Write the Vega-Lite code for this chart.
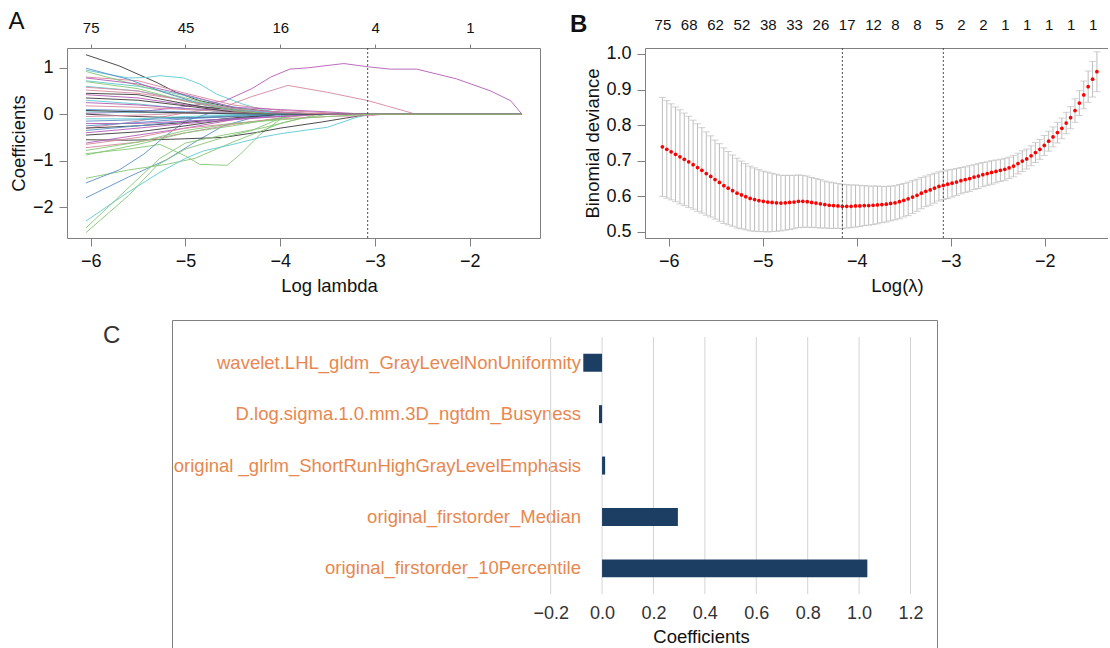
{
  "$schema": "https://vega.github.io/schema/vega-lite/v6.json",
  "background": "white",
  "padding": {"left": 7, "top": 9, "right": 0, "bottom": 0},
  "config": {
    "font": "Liberation Sans",
    "view": {"stroke": null},
    "axis": {"grid": false, "labelFontSize": 18, "titleFontSize": 18.5, "titleFontWeight": "normal", "labelColor": "#111111", "titleColor": "#111111", "tickColor": "#808080", "domainColor": "#808080", "labelFlush": false, "labelOverlap": false},
    "title": {"fontSize": 24, "fontWeight": "normal", "anchor": "start", "color": "#111111"}
  },
  "spacing": 25,
  "vconcat": [
    {
      "spacing": 28,
      "hconcat": [
        {
          "width": 473,
          "height": 190,
          "view": {"stroke": "#808080"},
          "title": {"text": "A", "offset": -13, "dx": -1},
          "data": {"values": [
            {"v":"01","x":-6.05,"y":1.28},{"v":"01","x":-5.7,"y":1.04},{"v":"01","x":-5.3,"y":0.68},{"v":"01","x":-5.1,"y":0.47},{"v":"01","x":-4.85,"y":0.29},{"v":"01","x":-4.5,"y":0.14},{"v":"01","x":-4.0,"y":0.04},{"v":"01","x":-3.6,"y":0},{"v":"01","x":-1.45,"y":0},
            {"v":"02","x":-6.05,"y":-0.3},{"v":"02","x":-5.5,"y":-0.15},{"v":"02","x":-5.0,"y":0.03},{"v":"02","x":-4.6,"y":0.15},{"v":"02","x":-4.3,"y":0.38},{"v":"02","x":-3.92,"y":0.62},{"v":"02","x":-3.5,"y":0.47},{"v":"02","x":-3.07,"y":0.29},{"v":"02","x":-2.57,"y":0},{"v":"02","x":-1.45,"y":0},
            {"v":"03","x":-6.05,"y":-0.85},{"v":"03","x":-5.6,"y":-0.75},{"v":"03","x":-5.27,"y":-0.65},{"v":"03","x":-5.0,"y":-0.9},{"v":"03","x":-4.85,"y":-1.08},{"v":"03","x":-4.56,"y":-1.1},{"v":"03","x":-4.42,"y":-0.86},{"v":"03","x":-4.21,"y":-0.43},{"v":"03","x":-3.93,"y":0},{"v":"03","x":-1.45,"y":0},
            {"v":"04","x":-6.05,"y":-1.8},{"v":"04","x":-5.6,"y":-1.35},{"v":"04","x":-5.2,"y":-0.98},{"v":"04","x":-4.9,"y":-0.6},{"v":"04","x":-4.6,"y":-0.25},{"v":"04","x":-4.3,"y":-0.08},{"v":"04","x":-4.0,"y":0},{"v":"04","x":-1.45,"y":0},
            {"v":"05","x":-6.05,"y":0.95},{"v":"05","x":-5.8,"y":0.85},{"v":"05","x":-5.6,"y":0.78},{"v":"05","x":-5.41,"y":0.79},{"v":"05","x":-5.27,"y":0.83},{"v":"05","x":-5.02,"y":0.78},{"v":"05","x":-4.85,"y":0.65},{"v":"05","x":-4.67,"y":0.43},{"v":"05","x":-4.4,"y":0.22},{"v":"05","x":-4.2,"y":0.1},{"v":"05","x":-3.9,"y":0},{"v":"05","x":-1.45,"y":0},
            {"v":"06","x":-6.05,"y":0.02},{"v":"06","x":-5.5,"y":0.05},{"v":"06","x":-5.09,"y":0.14},{"v":"06","x":-4.58,"y":0.29},{"v":"06","x":-4.3,"y":0.55},{"v":"06","x":-4.1,"y":0.8},{"v":"06","x":-3.9,"y":0.97},{"v":"06","x":-3.7,"y":1.0},{"v":"06","x":-3.33,"y":1.09},{"v":"06","x":-3.07,"y":1.02},{"v":"06","x":-2.84,"y":0.97},{"v":"06","x":-2.56,"y":0.97},{"v":"06","x":-2.14,"y":0.76},{"v":"06","x":-1.78,"y":0.5},{"v":"06","x":-1.57,"y":0.29},{"v":"06","x":-1.45,"y":0},
            {"v":"07","x":-6.05,"y":-0.55},{"v":"07","x":-5.6,"y":-0.56},{"v":"07","x":-5.16,"y":-0.54},{"v":"07","x":-4.6,"y":-0.5},{"v":"07","x":-4.21,"y":-0.38},{"v":"07","x":-4.0,"y":-0.3},{"v":"07","x":-3.57,"y":-0.17},{"v":"07","x":-3.3,"y":-0.08},{"v":"07","x":-3.05,"y":0},{"v":"07","x":-1.45,"y":0},
            {"v":"08","x":-6.05,"y":0.8},{"v":"08","x":-5.5,"y":0.72},{"v":"08","x":-5.0,"y":0.45},{"v":"08","x":-4.5,"y":0.2},{"v":"08","x":-4.0,"y":0.08},{"v":"08","x":-3.5,"y":0.03},{"v":"08","x":-3.2,"y":0},{"v":"08","x":-1.45,"y":0},
            {"v":"09","x":-6.05,"y":-1.38},{"v":"09","x":-5.6,"y":-1.2},{"v":"09","x":-5.2,"y":-1.08},{"v":"09","x":-4.9,"y":-0.95},{"v":"09","x":-4.5,"y":-0.6},{"v":"09","x":-4.0,"y":-0.2},{"v":"09","x":-3.6,"y":0},{"v":"09","x":-1.45,"y":0},
            {"v":"10","x":-6.05,"y":-1.48},{"v":"10","x":-5.7,"y":-1.2},{"v":"10","x":-5.44,"y":-0.86},{"v":"10","x":-5.2,"y":-0.45},{"v":"10","x":-4.99,"y":-0.14},{"v":"10","x":-4.7,"y":0.05},{"v":"10","x":-4.3,"y":0.04},{"v":"10","x":-4.0,"y":0},{"v":"10","x":-1.45,"y":0},
            {"v":"11","x":-6.05,"y":-2.3},{"v":"11","x":-5.62,"y":-1.7},{"v":"11","x":-5.27,"y":-1.25},{"v":"11","x":-4.99,"y":-0.94},{"v":"11","x":-4.81,"y":-0.79},{"v":"11","x":-4.5,"y":-0.65},{"v":"11","x":-4.21,"y":-0.5},{"v":"11","x":-4.0,"y":-0.42},{"v":"11","x":-3.5,"y":-0.28},{"v":"11","x":-3.2,"y":-0.07},{"v":"11","x":-3.05,"y":0},{"v":"11","x":-1.45,"y":0},
            {"v":"12","x":-6.05,"y":0.42},{"v":"12","x":-5.5,"y":0.35},{"v":"12","x":-5.0,"y":0.2},{"v":"12","x":-4.5,"y":0.1},{"v":"12","x":-4.0,"y":0.05},{"v":"12","x":-3.6,"y":0},{"v":"12","x":-1.45,"y":0},
            {"v":"13","x":-6.05,"y":0.45},{"v":"13","x":-5.5,"y":0.42},{"v":"13","x":-5.2,"y":0.3},{"v":"13","x":-4.8,"y":0.15},{"v":"13","x":-4.4,"y":0.08},{"v":"13","x":-4.0,"y":0},{"v":"13","x":-1.45,"y":0},
            {"v":"14","x":-6.05,"y":0.52},{"v":"14","x":-5.5,"y":0.45},{"v":"14","x":-5.0,"y":0.3},{"v":"14","x":-4.5,"y":0.12},{"v":"14","x":-4.1,"y":0.02},{"v":"14","x":-3.9,"y":0},{"v":"14","x":-1.45,"y":0},
            {"v":"15","x":-6.05,"y":-2.45},{"v":"15","x":-5.62,"y":-1.62},{"v":"15","x":-5.27,"y":-0.95},{"v":"15","x":-5.0,"y":-0.62},{"v":"15","x":-4.6,"y":-0.45},{"v":"15","x":-4.2,"y":-0.3},{"v":"15","x":-3.8,"y":-0.1},{"v":"15","x":-3.5,"y":0},{"v":"15","x":-1.45,"y":0},
            {"v":"16","x":-6.05,"y":0.1},{"v":"16","x":-5.5,"y":0.08},{"v":"16","x":-5.0,"y":0.05},{"v":"16","x":-4.5,"y":0.02},{"v":"16","x":-4.0,"y":0},{"v":"16","x":-1.45,"y":0},
            {"v":"17","x":-6.05,"y":0.72},{"v":"17","x":-5.5,"y":0.6},{"v":"17","x":-5.0,"y":0.4},{"v":"17","x":-4.6,"y":0.2},{"v":"17","x":-4.2,"y":0.05},{"v":"17","x":-4.0,"y":0},{"v":"17","x":-1.45,"y":0},
            {"v":"18","x":-6.05,"y":-0.62},{"v":"18","x":-5.5,"y":-0.45},{"v":"18","x":-5.0,"y":-0.3},{"v":"18","x":-4.5,"y":-0.12},{"v":"18","x":-4.1,"y":0},{"v":"18","x":-1.45,"y":0},
            {"v":"19","x":-6.05,"y":-0.45},{"v":"19","x":-5.5,"y":-0.38},{"v":"19","x":-5.0,"y":-0.25},{"v":"19","x":-4.5,"y":-0.1},{"v":"19","x":-4.0,"y":0},{"v":"19","x":-1.45,"y":0},
            {"v":"20","x":-6.05,"y":-0.65},{"v":"20","x":-5.5,"y":-0.5},{"v":"20","x":-5.0,"y":-0.3},{"v":"20","x":-4.5,"y":-0.2},{"v":"20","x":-4.0,"y":-0.1},{"v":"20","x":-3.5,"y":-0.05},{"v":"20","x":-3.05,"y":-0.03},{"v":"20","x":-2.9,"y":0},{"v":"20","x":-1.45,"y":0},
            {"v":"21","x":-6.05,"y":0.92},{"v":"21","x":-5.5,"y":0.62},{"v":"21","x":-5.0,"y":0.35},{"v":"21","x":-4.5,"y":0.1},{"v":"21","x":-4.1,"y":0},{"v":"21","x":-1.45,"y":0},
            {"v":"22","x":-6.05,"y":0.99},{"v":"22","x":-5.6,"y":0.75},{"v":"22","x":-5.2,"y":0.45},{"v":"22","x":-4.8,"y":0.2},{"v":"22","x":-4.4,"y":0.05},{"v":"22","x":-4.1,"y":0},{"v":"22","x":-1.45,"y":0},
            {"v":"23","x":-6.05,"y":0.3},{"v":"23","x":-5.5,"y":0.22},{"v":"23","x":-5.0,"y":0.12},{"v":"23","x":-4.5,"y":0.04},{"v":"23","x":-4.1,"y":0},{"v":"23","x":-1.45,"y":0},
            {"v":"24","x":-6.05,"y":0.78},{"v":"24","x":-5.5,"y":0.65},{"v":"24","x":-5.0,"y":0.42},{"v":"24","x":-4.5,"y":0.15},{"v":"24","x":-4.0,"y":0.1},{"v":"24","x":-3.5,"y":0.05},{"v":"24","x":-3.1,"y":0},{"v":"24","x":-1.45,"y":0},
            {"v":"25","x":-6.05,"y":0.0},{"v":"25","x":-5.5,"y":-0.05},{"v":"25","x":-5.0,"y":-0.08},{"v":"25","x":-4.5,"y":-0.05},{"v":"25","x":-4.0,"y":0},{"v":"25","x":-1.45,"y":0},
            {"v":"26","x":-6.05,"y":-0.72},{"v":"26","x":-5.5,"y":-0.6},{"v":"26","x":-5.0,"y":-0.4},{"v":"26","x":-4.5,"y":-0.22},{"v":"26","x":-4.0,"y":-0.08},{"v":"26","x":-3.6,"y":0},{"v":"26","x":-1.45,"y":0},
            {"v":"27","x":-6.05,"y":-2.55},{"v":"27","x":-5.6,"y":-1.75},{"v":"27","x":-5.3,"y":-1.1},{"v":"27","x":-5.0,"y":-0.75},{"v":"27","x":-4.6,"y":-0.5},{"v":"27","x":-4.3,"y":-0.35},{"v":"27","x":-3.9,"y":0},{"v":"27","x":-1.45,"y":0},
            {"v":"28","x":-6.05,"y":-0.15},{"v":"28","x":-5.5,"y":-0.12},{"v":"28","x":-5.0,"y":-0.08},{"v":"28","x":-4.5,"y":-0.03},{"v":"28","x":-4.0,"y":0},{"v":"28","x":-1.45,"y":0},
            {"v":"29","x":-6.05,"y":0.05},{"v":"29","x":-5.5,"y":0.04},{"v":"29","x":-5.0,"y":0.02},{"v":"29","x":-4.5,"y":0},{"v":"29","x":-1.45,"y":0},
            {"v":"30","x":-6.05,"y":0.25},{"v":"30","x":-5.5,"y":0.2},{"v":"30","x":-5.0,"y":0.12},{"v":"30","x":-4.5,"y":0.08},{"v":"30","x":-4.0,"y":0.03},{"v":"30","x":-3.5,"y":0},{"v":"30","x":-1.45,"y":0},
            {"v":"31","x":-6.05,"y":-0.3},{"v":"31","x":-5.5,"y":-0.25},{"v":"31","x":-5.0,"y":-0.18},{"v":"31","x":-4.5,"y":-0.08},{"v":"31","x":-4.0,"y":0},{"v":"31","x":-1.45,"y":0},
            {"v":"32","x":-6.05,"y":0.18},{"v":"32","x":-5.5,"y":0.15},{"v":"32","x":-5.0,"y":0.1},{"v":"32","x":-4.5,"y":0.05},{"v":"32","x":-4.0,"y":0},{"v":"32","x":-1.45,"y":0},
            {"v":"33","x":-6.05,"y":-0.88},{"v":"33","x":-5.5,"y":-0.65},{"v":"33","x":-5.0,"y":-0.4},{"v":"33","x":-4.5,"y":-0.25},{"v":"33","x":-4.0,"y":-0.08},{"v":"33","x":-3.7,"y":0},{"v":"33","x":-1.45,"y":0},
            {"v":"34","x":-6.05,"y":-0.35},{"v":"34","x":-5.5,"y":-0.25},{"v":"34","x":-5.0,"y":-0.15},{"v":"34","x":-4.5,"y":-0.1},{"v":"34","x":-4.0,"y":-0.03},{"v":"34","x":-3.8,"y":0},{"v":"34","x":-1.45,"y":0},
            {"v":"35","x":-6.05,"y":0.6},{"v":"35","x":-5.5,"y":0.5},{"v":"35","x":-5.0,"y":0.3},{"v":"35","x":-4.5,"y":0.12},{"v":"35","x":-4.0,"y":0},{"v":"35","x":-1.45,"y":0},
            {"v":"36","x":-6.05,"y":-0.2},{"v":"36","x":-5.5,"y":-0.2},{"v":"36","x":-5.0,"y":-0.15},{"v":"36","x":-4.5,"y":-0.1},{"v":"36","x":-4.0,"y":-0.05},{"v":"36","x":-3.6,"y":0},{"v":"36","x":-1.45,"y":0},
            {"v":"37","x":-6.05,"y":0.35},{"v":"37","x":-5.5,"y":0.3},{"v":"37","x":-5.0,"y":0.18},{"v":"37","x":-4.5,"y":0.05},{"v":"37","x":-4.0,"y":0},{"v":"37","x":-1.45,"y":0},
            {"v":"38","x":-6.05,"y":-0.05},{"v":"38","x":-5.5,"y":-0.02},{"v":"38","x":-5.0,"y":0.02},{"v":"38","x":-4.5,"y":0.03},{"v":"38","x":-4.0,"y":0.01},{"v":"38","x":-3.7,"y":0},{"v":"38","x":-1.45,"y":0},
            {"v":"39","x":-6.05,"y":0.7},{"v":"39","x":-5.5,"y":0.55},{"v":"39","x":-5.0,"y":0.28},{"v":"39","x":-4.5,"y":0.08},{"v":"39","x":-4.1,"y":0},{"v":"39","x":-1.45,"y":0},
            {"v":"40","x":-6.05,"y":-0.25},{"v":"40","x":-5.5,"y":-0.18},{"v":"40","x":-5.0,"y":-0.1},{"v":"40","x":-4.5,"y":-0.05},{"v":"40","x":-4.0,"y":0},{"v":"40","x":-1.45,"y":0},
            {"v":"41","x":-6.05,"y":-0.1},{"v":"41","x":-5.5,"y":-0.1},{"v":"41","x":-5.0,"y":-0.05},{"v":"41","x":-4.5,"y":-0.02},{"v":"41","x":-4.0,"y":0},{"v":"41","x":-1.45,"y":0},
            {"v":"42","x":-6.05,"y":-0.4},{"v":"42","x":-5.5,"y":-0.3},{"v":"42","x":-5.0,"y":-0.2},{"v":"42","x":-4.5,"y":-0.12},{"v":"42","x":-4.0,"y":-0.05},{"v":"42","x":-3.6,"y":0},{"v":"42","x":-1.45,"y":0},
            {"v":"43","x":-6.05,"y":0.08},{"v":"43","x":-5.5,"y":0.05},{"v":"43","x":-5.0,"y":0.03},{"v":"43","x":-4.5,"y":0.01},{"v":"43","x":-4.0,"y":0},{"v":"43","x":-1.45,"y":0},
            {"v":"44","x":-6.05,"y":0.58},{"v":"44","x":-5.5,"y":0.5},{"v":"44","x":-5.0,"y":0.28},{"v":"44","x":-4.5,"y":0.12},{"v":"44","x":-4.0,"y":0.04},{"v":"44","x":-3.4,"y":0},{"v":"44","x":-1.45,"y":0},
            {"v":"45","x":-6.05,"y":-0.78},{"v":"45","x":-5.5,"y":-0.6},{"v":"45","x":-5.0,"y":-0.35},{"v":"45","x":-4.5,"y":-0.2},{"v":"45","x":-4.0,"y":-0.12},{"v":"45","x":-3.5,"y":-0.05},{"v":"45","x":-3.05,"y":0},{"v":"45","x":-1.45,"y":0}
          ]},
          "layer": [
            {
              "mark": {"type": "line", "strokeWidth": 1, "opacity": 0.9},
              "encoding": {
                "x": {"field": "x", "type": "quantitative", "scale": {"domain": [-6.25, -1.26], "nice": false, "zero": false},
                      "axis": {"orient": "bottom", "values": [-6, -5, -4, -3, -2], "title": "Log lambda", "titleX": 262, "tickSize": 8, "labelPadding": 6, "titlePadding": 6, "domain": false}},
                "y": {"field": "y", "type": "quantitative", "scale": {"domain": [-2.665, 1.425], "nice": false, "zero": false},
                      "axis": {"values": [-2, -1, 0, 1], "title": "Coefficients", "tickSize": 8, "labelPadding": 6, "titlePadding": 4, "domain": false, "labelOverlap": false}},
                "color": {"field": "v", "type": "nominal", "legend": null,
                          "scale": {"range": ["#3a3a3a", "#d6879c", "#86c676", "#5a8fc8", "#5ccbd2", "#b35db3"]}}
              }
            },
            {
              "data": {"values": [{"x": -3.078}]},
              "mark": {"type": "rule", "strokeDash": [2, 2], "color": "#4d4d4d", "strokeWidth": 1},
              "encoding": {
                "x": {"field": "x", "type": "quantitative",
                      "axis": {"orient": "top", "values": [-6, -5, -4, -3, -2], "labelExpr": "datum.value == -6 ? '75' : datum.value == -5 ? '45' : datum.value == -4 ? '16' : datum.value == -3 ? '4' : '1'", "title": null, "tickSize": 4, "labelPadding": 8.5, "labelFontSize": 15, "domain": false}}
              }
            }
          ],
          "resolve": {"axis": {"x": "independent"}}
        },
        {
          "width": 463,
          "height": 190,
          "title": {"text": "B", "fontWeight": "bold", "offset": -20, "dx": -14},
          "data": {"values": [
            {"x":-6.067,"m":0.739,"lo":0.600,"hi":0.878},{"x":-6.020,"m":0.732,"lo":0.595,"hi":0.869},{"x":-5.974,"m":0.725,"lo":0.590,"hi":0.860},{"x":-5.927,"m":0.718,"lo":0.585,"hi":0.851},{"x":-5.880,"m":0.711,"lo":0.579,"hi":0.843},
            {"x":-5.834,"m":0.704,"lo":0.574,"hi":0.834},{"x":-5.787,"m":0.697,"lo":0.569,"hi":0.825},{"x":-5.740,"m":0.689,"lo":0.564,"hi":0.814},{"x":-5.693,"m":0.681,"lo":0.558,"hi":0.804},{"x":-5.647,"m":0.673,"lo":0.553,"hi":0.793},
            {"x":-5.600,"m":0.664,"lo":0.547,"hi":0.781},{"x":-5.553,"m":0.656,"lo":0.542,"hi":0.770},{"x":-5.507,"m":0.647,"lo":0.536,"hi":0.758},{"x":-5.460,"m":0.639,"lo":0.530,"hi":0.748},{"x":-5.413,"m":0.630,"lo":0.524,"hi":0.736},
            {"x":-5.367,"m":0.623,"lo":0.520,"hi":0.726},{"x":-5.320,"m":0.616,"lo":0.516,"hi":0.716},{"x":-5.273,"m":0.609,"lo":0.511,"hi":0.707},{"x":-5.226,"m":0.604,"lo":0.509,"hi":0.699},{"x":-5.180,"m":0.599,"lo":0.506,"hi":0.692},
            {"x":-5.133,"m":0.594,"lo":0.503,"hi":0.685},{"x":-5.086,"m":0.591,"lo":0.502,"hi":0.680},{"x":-5.040,"m":0.588,"lo":0.501,"hi":0.675},{"x":-4.993,"m":0.586,"lo":0.501,"hi":0.671},{"x":-4.946,"m":0.584,"lo":0.500,"hi":0.668},
            {"x":-4.900,"m":0.583,"lo":0.501,"hi":0.665},{"x":-4.853,"m":0.582,"lo":0.502,"hi":0.662},{"x":-4.806,"m":0.581,"lo":0.503,"hi":0.659},{"x":-4.759,"m":0.582,"lo":0.505,"hi":0.659},{"x":-4.713,"m":0.583,"lo":0.507,"hi":0.659},
            {"x":-4.666,"m":0.584,"lo":0.509,"hi":0.659},{"x":-4.619,"m":0.586,"lo":0.512,"hi":0.660},{"x":-4.573,"m":0.586,"lo":0.513,"hi":0.659},{"x":-4.526,"m":0.585,"lo":0.513,"hi":0.657},{"x":-4.479,"m":0.583,"lo":0.513,"hi":0.653},
            {"x":-4.433,"m":0.581,"lo":0.512,"hi":0.650},{"x":-4.386,"m":0.579,"lo":0.511,"hi":0.647},{"x":-4.339,"m":0.577,"lo":0.511,"hi":0.643},{"x":-4.292,"m":0.575,"lo":0.510,"hi":0.640},{"x":-4.246,"m":0.574,"lo":0.510,"hi":0.638},
            {"x":-4.199,"m":0.573,"lo":0.510,"hi":0.636},{"x":-4.152,"m":0.572,"lo":0.510,"hi":0.634},{"x":-4.106,"m":0.572,"lo":0.511,"hi":0.633},{"x":-4.059,"m":0.572,"lo":0.512,"hi":0.632},{"x":-4.012,"m":0.573,"lo":0.514,"hi":0.632},
            {"x":-3.966,"m":0.573,"lo":0.515,"hi":0.631},{"x":-3.919,"m":0.574,"lo":0.518,"hi":0.630},{"x":-3.872,"m":0.574,"lo":0.519,"hi":0.629},{"x":-3.825,"m":0.575,"lo":0.521,"hi":0.629},{"x":-3.779,"m":0.576,"lo":0.523,"hi":0.629},
            {"x":-3.732,"m":0.577,"lo":0.526,"hi":0.628},{"x":-3.685,"m":0.578,"lo":0.528,"hi":0.628},{"x":-3.639,"m":0.580,"lo":0.531,"hi":0.629},{"x":-3.592,"m":0.582,"lo":0.534,"hi":0.630},{"x":-3.545,"m":0.585,"lo":0.537,"hi":0.633},
            {"x":-3.499,"m":0.589,"lo":0.542,"hi":0.636},{"x":-3.452,"m":0.593,"lo":0.546,"hi":0.640},{"x":-3.405,"m":0.598,"lo":0.552,"hi":0.644},{"x":-3.358,"m":0.603,"lo":0.558,"hi":0.648},{"x":-3.312,"m":0.609,"lo":0.565,"hi":0.653},
            {"x":-3.265,"m":0.614,"lo":0.571,"hi":0.657},{"x":-3.218,"m":0.618,"lo":0.575,"hi":0.661},{"x":-3.172,"m":0.623,"lo":0.581,"hi":0.665},{"x":-3.125,"m":0.628,"lo":0.587,"hi":0.669},{"x":-3.078,"m":0.631,"lo":0.591,"hi":0.671},
            {"x":-3.032,"m":0.634,"lo":0.594,"hi":0.674},{"x":-2.985,"m":0.637,"lo":0.598,"hi":0.676},{"x":-2.938,"m":0.640,"lo":0.602,"hi":0.678},{"x":-2.891,"m":0.644,"lo":0.607,"hi":0.681},{"x":-2.845,"m":0.647,"lo":0.611,"hi":0.683},
            {"x":-2.798,"m":0.650,"lo":0.614,"hi":0.686},{"x":-2.751,"m":0.654,"lo":0.619,"hi":0.689},{"x":-2.705,"m":0.657,"lo":0.622,"hi":0.692},{"x":-2.658,"m":0.661,"lo":0.627,"hi":0.695},{"x":-2.611,"m":0.664,"lo":0.631,"hi":0.697},
            {"x":-2.565,"m":0.667,"lo":0.634,"hi":0.700},{"x":-2.518,"m":0.670,"lo":0.638,"hi":0.702},{"x":-2.471,"m":0.673,"lo":0.642,"hi":0.704},{"x":-2.424,"m":0.676,"lo":0.645,"hi":0.707},{"x":-2.378,"m":0.680,"lo":0.650,"hi":0.710},
            {"x":-2.331,"m":0.685,"lo":0.655,"hi":0.715},{"x":-2.284,"m":0.692,"lo":0.663,"hi":0.721},{"x":-2.238,"m":0.699,"lo":0.670,"hi":0.728},{"x":-2.191,"m":0.705,"lo":0.677,"hi":0.733},{"x":-2.144,"m":0.714,"lo":0.686,"hi":0.742},
            {"x":-2.098,"m":0.723,"lo":0.695,"hi":0.751},{"x":-2.051,"m":0.732,"lo":0.704,"hi":0.760},{"x":-2.004,"m":0.743,"lo":0.715,"hi":0.771},{"x":-1.957,"m":0.755,"lo":0.727,"hi":0.783},{"x":-1.911,"m":0.767,"lo":0.739,"hi":0.795},
            {"x":-1.864,"m":0.779,"lo":0.750,"hi":0.808},{"x":-1.817,"m":0.791,"lo":0.762,"hi":0.820},{"x":-1.771,"m":0.806,"lo":0.776,"hi":0.836},{"x":-1.724,"m":0.821,"lo":0.790,"hi":0.852},{"x":-1.677,"m":0.841,"lo":0.808,"hi":0.874},
            {"x":-1.631,"m":0.862,"lo":0.827,"hi":0.897},{"x":-1.584,"m":0.885,"lo":0.846,"hi":0.924},{"x":-1.537,"m":0.908,"lo":0.864,"hi":0.952},{"x":-1.490,"m":0.929,"lo":0.879,"hi":0.979},{"x":-1.444,"m":0.950,"lo":0.894,"hi":1.006}
          ]},
          "layer": [
            {
              "mark": {"type": "errorbar", "ticks": {"size": 7}, "color": "#bdbdbd", "thickness": 1},
              "encoding": {
                "x": {"field": "x", "type": "quantitative", "scale": {"domain": [-6.252, -1.326], "nice": false, "zero": false},
                      "axis": {"orient": "bottom", "values": [-6, -5, -4, -3, -2], "title": "Log(λ)", "titleX": 252, "tickSize": 8, "labelPadding": 6, "titlePadding": 6, "domain": true}},
                "y": {"field": "lo", "type": "quantitative", "title": "Binomial deviance",
                      "scale": {"domain": [0.483, 1.0167], "nice": false, "zero": false},
                      "axis": {"values": [0.5, 0.6, 0.7, 0.8, 0.9, 1.0], "format": ".1f", "tickSize": 8, "labelPadding": 6, "titlePadding": 3, "domain": true, "labelOverlap": false}},
                "y2": {"field": "hi"}
              }
            },
            {
              "mark": {"type": "circle", "color": "#ff0000", "size": 14, "opacity": 1},
              "encoding": {
                "x": {"field": "x", "type": "quantitative", "axis": null},
                "y": {"field": "m", "type": "quantitative", "title": "Binomial deviance",
                      "axis": {"values": [0.5, 0.6, 0.7, 0.8, 0.9, 1.0], "format": ".1f", "tickSize": 8, "labelPadding": 6, "titlePadding": 3, "domain": true, "labelOverlap": false}}
              }
            },
            {
              "data": {"values": [{"x": -4.152}, {"x": -3.078}]},
              "mark": {"type": "rule", "strokeDash": [2, 2], "color": "#4d4d4d", "strokeWidth": 1},
              "encoding": {
                "x": {"field": "x", "type": "quantitative",
                      "axis": {"orient": "top", "values": [-6.067, -5.787, -5.507, -5.226, -4.946, -4.666, -4.386, -4.106, -3.825, -3.592, -3.358, -3.125, -2.891, -2.658, -2.424, -2.191, -1.957, -1.724, -1.49],
                               "labelExpr": "['75','68','62','52','38','33','26','17','12','8','8','5','2','2','1','1','1','1','1'][indexof([-6.067,-5.787,-5.507,-5.226,-4.946,-4.666,-4.386,-4.106,-3.825,-3.592,-3.358,-3.125,-2.891,-2.658,-2.424,-2.191,-1.957,-1.724,-1.49], datum.value)]",
                               "title": null, "ticks": false, "tickSize": 0, "labelPadding": 16, "labelFontSize": 15, "domain": true}}
              }
            }
          ],
          "resolve": {"axis": {"x": "independent"}}
        }
      ]
    },
    {
      "spacing": 0,
      "hconcat": [
        {
          "width": 36,
          "height": 1,
          "data": {"values": []},
          "mark": "point",
          "encoding": {}
        },
        {
          "width": 765,
          "height": 328,
          "title": {"text": "C", "frame": "group", "dx": -69, "offset": -28, "color": "#333333"},
          "layer": [
            {
              "data": {"values": [
                {"g": -0.2, "a": "wavelet.LHL_gldm_GrayLevelNonUniformity", "b": "original_firstorder_10Percentile"},
                {"g": 0.0, "a": "wavelet.LHL_gldm_GrayLevelNonUniformity", "b": "original_firstorder_10Percentile"},
                {"g": 0.2, "a": "wavelet.LHL_gldm_GrayLevelNonUniformity", "b": "original_firstorder_10Percentile"},
                {"g": 0.4, "a": "wavelet.LHL_gldm_GrayLevelNonUniformity", "b": "original_firstorder_10Percentile"},
                {"g": 0.6, "a": "wavelet.LHL_gldm_GrayLevelNonUniformity", "b": "original_firstorder_10Percentile"},
                {"g": 0.8, "a": "wavelet.LHL_gldm_GrayLevelNonUniformity", "b": "original_firstorder_10Percentile"},
                {"g": 1.0, "a": "wavelet.LHL_gldm_GrayLevelNonUniformity", "b": "original_firstorder_10Percentile"},
                {"g": 1.2, "a": "wavelet.LHL_gldm_GrayLevelNonUniformity", "b": "original_firstorder_10Percentile"}
              ]},
              "mark": {"type": "rule", "color": "#d4d4d4", "strokeWidth": 1},
              "encoding": {
                "x": {"field": "g", "type": "quantitative", "scale": {"domain": [-1.673, 1.303], "nice": false, "zero": false},
                      "axis": {"orient": "bottom", "offset": -46, "values": [-0.2, 0, 0.2, 0.4, 0.6, 0.8, 1, 1.2], "format": ".1f", "title": "Coefficients", "titleX": 529, "ticks": false, "tickSize": 0, "labelPadding": 2, "titlePadding": 5, "domain": false, "labelColor": "#333333"}},
                "y": {"field": "a", "type": "nominal", "bandPosition": 0,
                      "scale": {"type": "band", "domain": ["wavelet.LHL_gldm_GrayLevelNonUniformity", "D.log.sigma.1.0.mm.3D_ngtdm_Busyness", "original _glrlm_ShortRunHighGrayLevelEmphasis", "original_firstorder_Median", "original_firstorder_10Percentile"], "paddingInner": 0, "paddingOuter": 0.69, "align": 0.24},
                      "axis": {"orient": "right", "labels": false, "ticks": false, "title": null, "domain": true, "domainColor": "#7f7f7f"}},
                "y2": {"field": "b", "bandPosition": 1}
              }
            },
            {
              "data": {"values": [
                {"n": "wavelet.LHL_gldm_GrayLevelNonUniformity", "v": -0.073},
                {"n": "D.log.sigma.1.0.mm.3D_ngtdm_Busyness", "v": -0.012},
                {"n": "original _glrlm_ShortRunHighGrayLevelEmphasis", "v": 0.012},
                {"n": "original_firstorder_Median", "v": 0.295},
                {"n": "original_firstorder_10Percentile", "v": 1.032}
              ]},
              "mark": {"type": "bar", "color": "#1c3e63", "height": {"band": 0.35}},
              "encoding": {
                "x": {"field": "v", "type": "quantitative", "scale": {"domain": [-1.673, 1.303], "nice": false, "zero": false},
                      "axis": {"orient": "top", "labels": false, "ticks": false, "title": null, "domain": true, "domainColor": "#7f7f7f"}},
                "x2": {"datum": 0},
                "y": {"field": "n", "type": "nominal", "sort": null,
                      "scale": {"type": "band", "domain": ["wavelet.LHL_gldm_GrayLevelNonUniformity", "D.log.sigma.1.0.mm.3D_ngtdm_Busyness", "original _glrlm_ShortRunHighGrayLevelEmphasis", "original_firstorder_Median", "original_firstorder_10Percentile"], "paddingInner": 0, "paddingOuter": 0.69, "align": 0.24},
                      "axis": {"orient": "left", "title": null, "ticks": false, "tickSize": 0, "labelPadding": -408.5, "labelLimit": 0, "labelFontSize": 18.5, "labelColor": "#e8874f", "domain": true, "domainColor": "#7f7f7f"}}
              }
            }
          ],
          "resolve": {"axis": {"x": "independent", "y": "independent"}}
        }
      ]
    }
  ]
}
